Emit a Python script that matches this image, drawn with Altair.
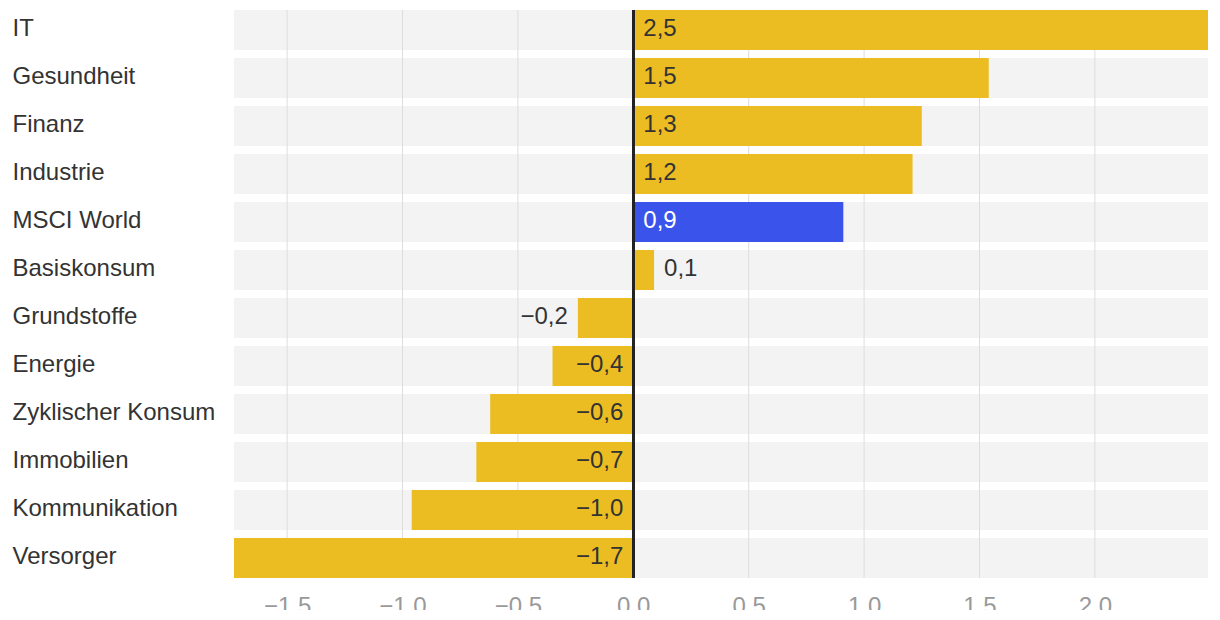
import altair as alt
import pandas as pd

categories = ["IT", "Gesundheit", "Finanz", "Industrie", "MSCI World", "Basiskonsum",
              "Grundstoffe", "Energie", "Zyklischer Konsum", "Immobilien",
              "Kommunikation", "Versorger"]
values = [2.49, 1.54, 1.25, 1.21, 0.91, 0.09, -0.24, -0.35, -0.62, -0.68, -0.96, -1.73]
labels = ["2,5", "1,5", "1,3", "1,2", "0,9", "0,1", "−0,2", "−0,4", "−0,6", "−0,7", "−1,0", "−1,7"]
highlight = "MSCI World"
tick_values = [-1.5, -1.0, -0.5, 0.0, 0.5, 1.0, 1.5, 2.0]

FONT = "Liberation Sans"
YELLOW = "#ebbd22"
BLUE = "#3a53eb"

df = pd.DataFrame({"cat": categories, "value": values, "label": labels})
grid_df = pd.DataFrame({"t": tick_values})

x_scale = alt.Scale(domain=[min(values), max(values)], nice=False, zero=False)
x_axis = alt.Axis(values=tick_values, format=".1f", grid=False, ticks=False,
                  domain=False, labelPadding=35, labelBaseline="alphabetic",
                  labelFontSize=24, labelFont=FONT, labelColor="#999999",
                  labelFlush=False, title=None)
y_enc = alt.Y(
    "cat:N", sort=categories,
    scale=alt.Scale(paddingInner=1 / 6, paddingOuter=0),
    axis=alt.Axis(title=None, ticks=False, domain=False, labelAlign="left",
                  labelPadding=222, labelBaseline="alphabetic", labelOffset=6,
                  labelFontSize=24, labelFont=FONT, labelColor="#333333",
                  labelLimit=400),
)

base = alt.Chart(df)

bg = base.mark_bar(color="#f3f3f3").encode(
    y=y_enc, x=alt.value(0), x2=alt.value("width")
)

grid = alt.Chart(grid_df).mark_rule(color="#dddddd", strokeWidth=1).encode(
    x=alt.X("t:Q", scale=x_scale, axis=x_axis)
)

bars = base.mark_bar().encode(
    y=y_enc,
    x=alt.X("value:Q", scale=x_scale, axis=x_axis),
    x2=alt.datum(0),
    color=alt.condition(alt.datum.cat == highlight, alt.value(BLUE), alt.value(YELLOW)),
)

zero = base.mark_rule(color="#222222", strokeWidth=2).encode(
    x=alt.X(datum=0, type="quantitative", scale=x_scale, axis=x_axis)
)

text_color = alt.condition(alt.datum.cat == highlight, alt.value("white"), alt.value("#333333"))

pos_text = base.transform_filter(alt.datum.value >= 0).transform_calculate(
    pos="abs(datum.value) < 0.3 ? datum.value : 0"
).mark_text(align="left", dx=10, dy=6, baseline="alphabetic", fontSize=24, font=FONT).encode(
    y=y_enc, x=alt.X("pos:Q", scale=x_scale, axis=x_axis), text="label:N", color=text_color
)

neg_text = base.transform_filter(alt.datum.value < 0).transform_calculate(
    pos="abs(datum.value) < 0.3 ? datum.value : 0"
).mark_text(align="right", dx=-10, dy=6, baseline="alphabetic", fontSize=24, font=FONT).encode(
    y=y_enc, x=alt.X("pos:Q", scale=x_scale, axis=x_axis), text="label:N", color=text_color
)

chart = alt.layer(bg, grid, bars, zero, pos_text, neg_text).properties(
    width=974, height=568,
    autosize=alt.AutoSizeParams(type="none"),
    padding={"left": 226, "top": 2, "right": 4, "bottom": 32},
).configure_view(stroke=None)

chart.save("out.html", embed_options={"renderer": "svg", "actions": False})
